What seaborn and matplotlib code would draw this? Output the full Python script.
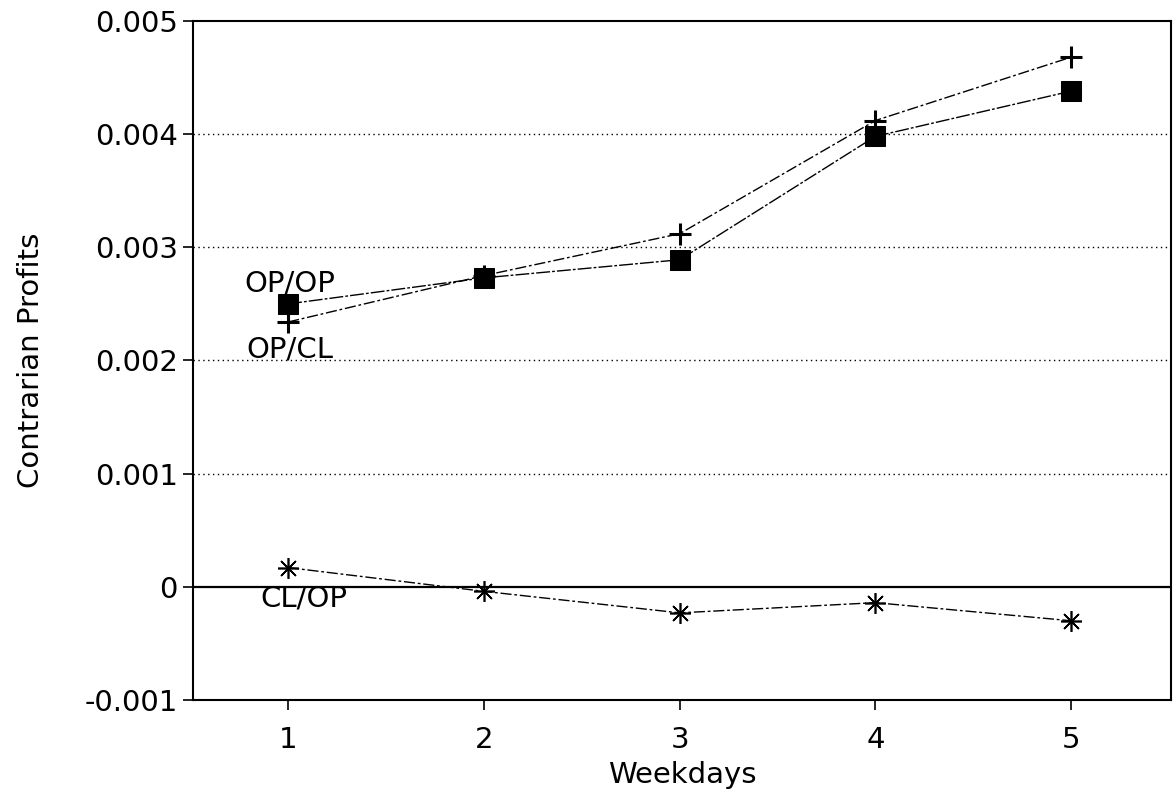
import matplotlib
matplotlib.use("Agg")
import matplotlib.pyplot as plt
import seaborn as sns
import pandas as pd

weekdays = [1, 2, 3, 4, 5]
op_op = [0.00250, 0.00273, 0.00289, 0.00398, 0.00438]
op_cl = [0.00234, 0.00275, 0.00312, 0.00412, 0.00468]
cl_op = [0.00017, -0.00004, -0.00023, -0.00014, -0.00030]
yticks = [-0.001, 0, 0.001, 0.002, 0.003, 0.004, 0.005]
ytick_labels = ["-0.001", "0", "0.001", "0.002", "0.003", "0.004", "0.005"]
grid_levels = [0.001, 0.002, 0.003, 0.004]

sns.set_theme(style="white")
plt.rcParams['font.family'] = ['DejaVu Sans']
plt.rcParams['text.color'] = 'black'
plt.rcParams['axes.labelcolor'] = 'black'
plt.rcParams['xtick.color'] = 'black'
plt.rcParams['ytick.color'] = 'black'

fig = plt.figure(figsize=(11.74, 7.94), dpi=100)
ax = fig.add_axes([0.1644, 0.1184, 0.833, 0.8552])

for lv in grid_levels:
    ax.axhline(lv, color="black", linestyle=(0, (1, 2.5)), linewidth=1.0, zorder=1)
ax.axhline(0, color="black", linestyle="-", linewidth=1.6, zorder=1)

df1 = pd.DataFrame({"Weekdays": weekdays, "v": op_op})
df2 = pd.DataFrame({"Weekdays": weekdays, "v": op_cl})
df3 = pd.DataFrame({"Weekdays": weekdays, "v": cl_op})

sns.lineplot(data=df1, x="Weekdays", y="v", ax=ax, color="black",
             linewidth=1.0, linestyle=(0, (10, 1.5, 2, 1.5)), marker="s",
             markersize=14, markeredgecolor="black", markerfacecolor="black", zorder=3)
sns.lineplot(data=df2, x="Weekdays", y="v", ax=ax, color="black",
             linewidth=1.0, linestyle=(0, (8, 2, 2, 2)), zorder=3)
ax.plot(weekdays, op_cl, linestyle="none", marker="+", markersize=16,
        markeredgewidth=2.2, color="black", zorder=4)
sns.lineplot(data=df3, x="Weekdays", y="v", ax=ax, color="black",
             linewidth=1.0, linestyle=(0, (8, 2, 2, 2)), zorder=3)
ax.plot(weekdays, cl_op, linestyle="none", marker=(8, 2, 0), markersize=15,
        markeredgewidth=1.2, color="black", zorder=4)

ax.text(1.01, 0.00268, "OP/OP", fontsize=21, ha="center", va="center")
ax.text(1.01, 0.00210, "OP/CL", fontsize=21, ha="center", va="center")
ax.text(1.08, -0.00010, "CL/OP", fontsize=21, ha="center", va="center")

ax.set_xlim(0.514, 5.51)
ax.set_ylim(-0.001, 0.005)
ax.set_xticks(weekdays)
ax.set_xticklabels([str(w) for w in weekdays])
ax.set_yticks(yticks)
ax.set_yticklabels(ytick_labels)
ax.tick_params(axis="both", direction="out", length=7, width=1.2, color="black",
               labelsize=21, pad=4, bottom=True, left=True)
ax.tick_params(axis="x", pad=12)
ax.set_xlabel("Weekdays", fontsize=21, labelpad=5)
ax.set_ylabel("Contrarian Profits", fontsize=21, labelpad=28)
for s in ax.spines.values():
    s.set_color("black")
    s.set_linewidth(1.5)
ax.grid(False)

fig.savefig("out.png", dpi=100)
